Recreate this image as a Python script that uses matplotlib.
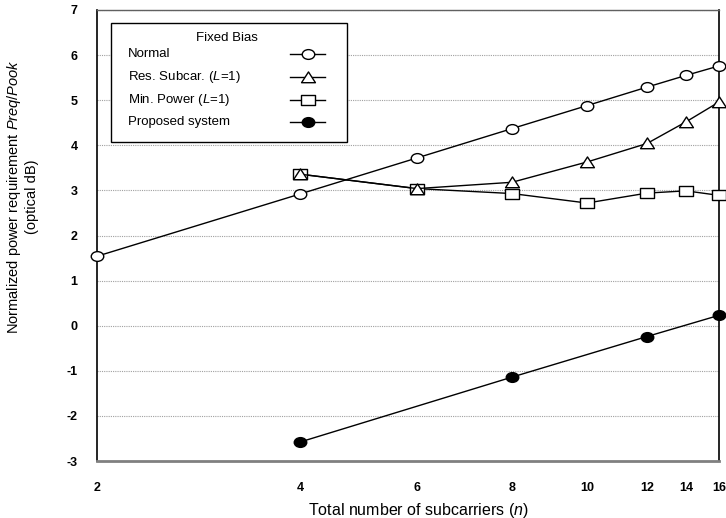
import numpy as np
import matplotlib
matplotlib.use("Agg")
import matplotlib.pyplot as plt
from matplotlib.lines import Line2D
from matplotlib.patches import Rectangle
from matplotlib.path import Path
from matplotlib.transforms import Affine2D

plt.rcParams['font.family'] = ['Liberation Sans', 'DejaVu Sans']
plt.rcParams['mathtext.fontset'] = 'custom'
plt.rcParams['mathtext.rm'] = 'Liberation Sans'
plt.rcParams['mathtext.it'] = 'Liberation Sans:italic'
plt.rcParams['axes.unicode_minus'] = False

# data
n_normal = [2, 4, 6, 8, 10, 12, 14, 16]
normal = [1.54, 2.92, 3.72, 4.37, 4.88, 5.29, 5.55, 5.76]
n_res = [4, 6, 8, 10, 12, 14, 16]
res_subcar = [3.36, 3.04, 3.18, 3.63, 4.04, 4.52, 4.96]
n_minp = [4, 6, 8, 10, 12, 14, 16]
min_power = [3.36, 3.04, 2.93, 2.72, 2.94, 2.99, 2.89]
n_prop = [4, 8, 12, 16]
proposed = [-2.58, -1.14, -0.24, 0.23]

x_ticks = [2, 4, 6, 8, 10, 12, 14, 16]
y_ticks = [-3, -2, -1, 0, 1, 2, 3, 4, 5, 6, 7]

# the original x axis is roughly logarithmic but not exactly; map it piecewise
x_knots = np.array([2, 4, 6, 8, 10, 12, 14, 16], dtype=float)
x_knot_pos = np.array([97, 300, 417, 512, 587, 647, 686, 719], dtype=float)

def fwd(x):
    return np.interp(x, x_knots, x_knot_pos)

def inv(p):
    return np.interp(p, x_knot_pos, x_knots)

W, H = 726, 518
fig = plt.figure(figsize=(W / 100, H / 100), dpi=100)

def fx(px):
    return px / W

def fy(py):
    return 1 - py / H

ax = fig.add_axes([fx(97), fy(461), (719 - 97) / W, (461 - 10) / H])
ax.set_xscale('function', functions=(fwd, inv))
ax.set_xlim(2, 16)
ax.set_ylim(-3, 7)

# marker shapes (slightly flattened like the original)
ellipse = Path.unit_circle().transformed(Affine2D().scale(1, 0.78))
rect = Path([(-1, -0.72), (1, -0.72), (1, 0.72), (-1, 0.72), (-1, -0.72)],
            [Path.MOVETO, Path.LINETO, Path.LINETO, Path.LINETO, Path.CLOSEPOLY])
tri = Path([(-1, -0.75), (1, -0.75), (0, 0.8), (-1, -0.75)],
           [Path.MOVETO, Path.LINETO, Path.LINETO, Path.CLOSEPOLY])

styles = {
    'normal': dict(marker=ellipse, ms=9, mfc='white', mec='black'),
    'res': dict(marker=tri, ms=10, mfc='white', mec='black'),
    'minp': dict(marker=rect, ms=10, mfc='white', mec='black'),
    'prop': dict(marker=ellipse, ms=9, mfc='black', mec='black'),
}

ax.grid(axis='y', color='#a0a0a0', linestyle=(0, (1, 1)), linewidth=0.8)
ax.set_axisbelow(True)

ax.plot(n_normal, normal, color='black', lw=1, mew=1, clip_on=False, zorder=3, **styles['normal'])
ax.plot(n_minp, min_power, color='black', lw=1, mew=1, clip_on=False, zorder=3, **styles['minp'])
ax.plot(n_res, res_subcar, color='black', lw=1, mew=1, clip_on=False, zorder=4, **styles['res'])
ax.plot(n_prop, proposed, color='black', lw=1, mew=1, clip_on=False, zorder=3, **styles['prop'])

ax.set_xticks(x_ticks)
ax.set_xticklabels([str(t) for t in x_ticks])
ax.set_yticks(y_ticks)
ax.xaxis.set_minor_locator(matplotlib.ticker.NullLocator())
ax.tick_params(axis='x', length=0, pad=15, labelsize=9)
ax.tick_params(axis='y', length=0, pad=14, labelsize=9)
for lab in ax.get_xticklabels() + ax.get_yticklabels():
    lab.set_fontweight('bold')

ax.spines['left'].set_color('black')
ax.spines['left'].set_linewidth(1.2)
ax.spines['right'].set_color('black')
ax.spines['right'].set_linewidth(1.2)
ax.spines['top'].set_color('#606060')
ax.spines['top'].set_linewidth(1)
ax.spines['bottom'].set_color('#808080')
ax.spines['bottom'].set_linewidth(2)

fig.text(fx(418), fy(510), r'Total number of subcarriers ($\mathit{n}$)',
         ha='center', va='center', fontsize=11.5)
fig.text(fx(22), fy(197),
         'Normalized power requirement $\\mathit{Preq/Pook}$\n(optical dB)',
         ha='center', va='center', rotation=90, fontsize=10.5,
         multialignment='center', linespacing=1.25)

# legend box drawn by hand: text on the left, line+marker on the right
fig.patches.append(Rectangle((fx(111), fy(142)), (347 - 111) / W, (142 - 23) / H,
                             transform=fig.transFigure, facecolor='white',
                             edgecolor='black', linewidth=1, zorder=5))
fig.text(fx(227), fy(38), 'Fixed Bias', ha='center', va='center', fontsize=9.5, zorder=6)
legend_rows = [
    ('Normal', 'normal', 54),
    (r'Res. Subcar. ($\mathit{L}$=1)', 'res', 77),
    (r'Min. Power ($\mathit{L}$=1)', 'minp', 100),
    ('Proposed system', 'prop', 122),
]
for label, key, py in legend_rows:
    fig.text(fx(128), fy(py), label, ha='left', va='center', fontsize=9.5, zorder=6)
    fig.lines.append(Line2D([fx(290), fx(325)], [fy(py), fy(py)], transform=fig.transFigure,
                            color='black', lw=1, zorder=6))
    fig.lines.append(Line2D([fx(308)], [fy(py)], transform=fig.transFigure,
                            color='black', mew=1, zorder=7, **styles[key]))

fig.savefig('out.png', dpi=100)
